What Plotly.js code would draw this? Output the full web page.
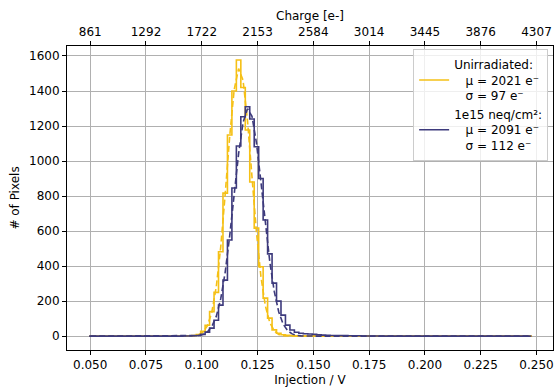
<!DOCTYPE html>
<html>
<head>
<meta charset="utf-8">
<script src="https://cdn.plot.ly/plotly-3.0.1.min.js"></script>
<style>html,body{margin:0;padding:0;background:#fff;}#plot{width:556px;height:390px;}</style>
</head>
<body>
<div id="plot"></div>
<script>
// Histogram binning (injection voltage, V)
const binStart = 0.0495;
const binWidth = 0.002;

// Counts per bin (99 bins), unirradiated
const countsUnirr = [
  0,0,0,0,0,0,0,0,0,0,
  0,0,0,0,0,0,0,0,0,0,
  0,1,2,4,9,28,62,140,250,482,
  817,1149,1400,1577,1420,1177,880,617,396,217,
  103,36,17,8,5,3,2,1,1,0,
  0,0,0,0,0,0,0,0,0,0,
  0,0,0,0,0,0,0,0,0,0,
  0,0,0,0,0,0,0,0,0,0,
  0,0,0,0,0,0,0,0,0,0,
  0,0,0,0,0,0,0,0,0
];
// Counts per bin (99 bins), 1e15 neq/cm^2
const countsIrr = [
  0,0,0,0,0,0,0,0,0,0,
  0,0,0,0,0,0,0,0,0,0,
  0,1,1,2,4,10,23,46,91,177,
  320,549,846,1086,1253,1310,1240,1082,900,663,
  470,303,200,120,63,35,22,17,14,12,
  10,8,6,5,4,4,3,3,2,2,
  2,1,1,1,1,0,0,0,0,0,
  0,0,0,0,0,0,0,0,0,0,
  0,0,0,0,0,0,0,0,0,0,
  0,0,0,0,0,0,0,0,0
];

// Gaussian fit curves
const fitV = [0.050,0.0905,0.0925,0.0945,0.0965,0.0985,0.1005,0.1025,0.1045,0.1065,0.1085,0.1105,0.1125,0.1145,0.1165,0.1185,0.1205,0.1225,0.1245,0.1265,0.1285,0.1305,0.1325,0.1345,0.1365,0.1385,0.1405,0.1425,0.1445,0.1465,0.1485,0.1505,0.1525,0.248];
const fitUnirr = [0,0,0.1,0.5,2.1,7.3,22,59,137,282,510,812,1139,1406,1528,1461,1230,911,595,341,173,77,30,10,3,0.8,0.2,0,0,0,0,0,0,0];
const fitIrr = [0,0,0,0.3,1.1,3.5,9.5,24,55,113,214,366,571,809,1042,1220,1299,1256,1104,882,640,423,254,138,68,31,13,5,1.6,0.5,0.1,0,0,0];

// Labels
const seriesNames = ["Unirradiated:", "1e15 neq/cm²:"];
const muE = [2021, 2091];
const sigmaE = [97, 112];
const colors = ["#f5c016", "#3d3a7c"];

// Axis ticks
const injTicks = [0.050,0.075,0.100,0.125,0.150,0.175,0.200,0.225,0.250];
const chargeTickLabels = ["861","1292","1722","2153","2584","3014","3445","3876","4307"];
const yTicks = [0,200,400,600,800,1000,1200,1400,1600];

function edgesFor(counts){
  const xs = [], ys = [];
  for (let i = 0; i < counts.length; i++){ xs.push(binStart + binWidth*i); ys.push(counts[i]); }
  xs.push(binStart + binWidth*counts.length); ys.push(counts[counts.length-1]);
  return {xs, ys};
}
const nb = '\u00a0\u00a0\u00a0';
function label(i){
  return seriesNames[i] + '<br>' + nb + 'μ = ' + muE[i] + ' e⁻<br>' + nb + 'σ = ' + sigmaE[i] + ' e⁻';
}

const hU = edgesFor(countsUnirr), hI = edgesFor(countsIrr);
const traces = [
  {x: hU.xs, y: hU.ys, type:'scatter', mode:'lines', line:{shape:'hv', color:colors[0], width:1.6}, name: label(0), showlegend:true},
  {x: fitV, y: fitUnirr, type:'scatter', mode:'lines', line:{color:colors[0], width:1.6, dash:'6px,3px'}, showlegend:false},
  {x: hI.xs, y: hI.ys, type:'scatter', mode:'lines', line:{shape:'hv', color:colors[1], width:1.6}, name: label(1), showlegend:true},
  {x: fitV, y: fitIrr, type:'scatter', mode:'lines', line:{color:colors[1], width:1.6, dash:'6px,3px'}, showlegend:false}
];

const font = {family:'DejaVu Sans, sans-serif', size:12, color:'#000'};
const xr = [0.0396, 0.2574];
const layout = {
  width:556, height:390,
  margin:{l:67, r:3, t:46, b:40},
  paper_bgcolor:'#fff', plot_bgcolor:'#fff',
  font: font,
  showlegend:true,
  xaxis:{
    range: xr, tickvals: injTicks, tickformat:'.3f',
    showgrid:true, gridcolor:'#b0b0b0', gridwidth:1,
    zeroline:false, showline:true, linecolor:'#000', linewidth:1, mirror:true,
    ticks:'outside', ticklen:4, tickwidth:1, tickcolor:'#000',
    title:{text:'Injection / V', font:font, standoff:4},
    tickfont: font
  },
  xaxis2:{
    range: xr, overlaying:'x', side:'top', anchor:'y',
    tickvals: injTicks, ticktext: chargeTickLabels,
    showgrid:false, zeroline:false, showline:true, linecolor:'#000', linewidth:1,
    ticks:'outside', ticklen:4, tickwidth:1, tickcolor:'#000',
    title:{text:'Charge [e-]', font:font, standoff:2},
    tickfont: font
  },
  yaxis:{
    range:[-79, 1657], tickvals: yTicks,
    showgrid:true, gridcolor:'#b0b0b0', gridwidth:1,
    zeroline:false, showline:true, linecolor:'#000', linewidth:1, mirror:true,
    ticks:'outside', ticklen:4, tickwidth:1, tickcolor:'#000',
    title:{text:'# of Pixels', font:font, standoff:6},
    tickfont: font
  },
  legend:{
    x:0.99, y:0.99, xanchor:'right', yanchor:'top',
    bgcolor:'rgba(255,255,255,0.8)', bordercolor:'#cccccc', borderwidth:1,
    font: font, traceorder:'normal', valign:'middle'
  }
};
// invisible trace to bind the top (charge) axis
traces.push({x: xr, y:[0,0], xaxis:'x2', yaxis:'y', mode:'lines', line:{width:0}, hoverinfo:'skip', showlegend:false});

Plotly.newPlot('plot', traces, layout, {staticPlot:true, displayModeBar:false});
</script>
</body>
</html>
